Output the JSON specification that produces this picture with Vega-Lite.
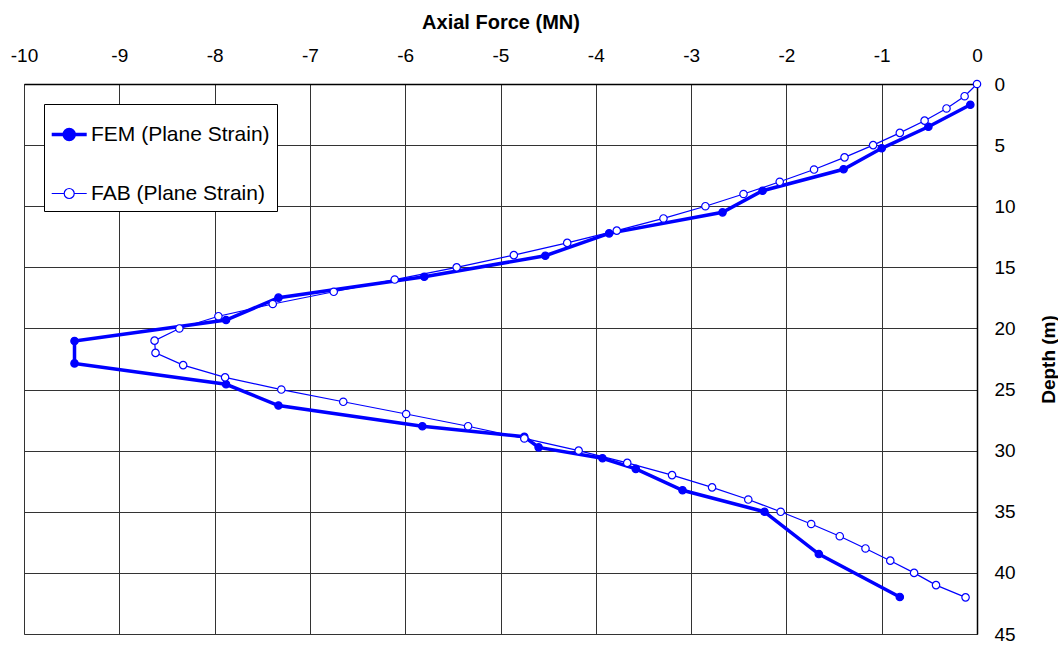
{
  "$schema": "https://vega.github.io/schema/vega-lite/v6.json",
  "width": 953,
  "height": 550,
  "autosize": "none",
  "padding": {"left": 24, "top": 84, "right": 81, "bottom": 13},
  "background": "white",
  "config": {
    "font": "Liberation Sans",
    "view": {"stroke": "#808080", "strokeWidth": 1},
    "axis": {"gridColor": "#333333", "gridWidth": 1, "gridOpacity": 1, "domainColor": "#000000", "domainWidth": 1.5, "labelColor": "#000000", "titleColor": "#000000", "labelFont": "Liberation Sans", "titleFont": "Liberation Sans"},
    "legend": {"orient": "top-left", "offset": 20, "padding": 7, "strokeColor": "#000000", "fillColor": "#ffffff", "cornerRadius": 0, "labelFontSize": 21, "labelFont": "Liberation Sans", "labelColor": "#000000", "labelOffset": -7, "rowPadding": 24, "labelLimit": 400, "symbolOpacity": 1}
  },
  "datasets": {
    "pts": [
      {"series": "FEM (Plane Strain)", "depth": 1.7, "force": -0.07},
      {"series": "FEM (Plane Strain)", "depth": 3.5, "force": -0.51},
      {"series": "FEM (Plane Strain)", "depth": 5.26, "force": -1.0},
      {"series": "FEM (Plane Strain)", "depth": 6.98, "force": -1.4},
      {"series": "FEM (Plane Strain)", "depth": 8.73, "force": -2.25},
      {"series": "FEM (Plane Strain)", "depth": 10.5, "force": -2.67},
      {"series": "FEM (Plane Strain)", "depth": 12.22, "force": -3.86},
      {"series": "FEM (Plane Strain)", "depth": 14.05, "force": -4.53},
      {"series": "FEM (Plane Strain)", "depth": 15.77, "force": -5.8},
      {"series": "FEM (Plane Strain)", "depth": 17.48, "force": -7.33},
      {"series": "FEM (Plane Strain)", "depth": 19.31, "force": -7.88},
      {"series": "FEM (Plane Strain)", "depth": 21.03, "force": -9.47},
      {"series": "FEM (Plane Strain)", "depth": 22.86, "force": -9.47},
      {"series": "FEM (Plane Strain)", "depth": 24.57, "force": -7.88},
      {"series": "FEM (Plane Strain)", "depth": 26.31, "force": -7.33},
      {"series": "FEM (Plane Strain)", "depth": 28.0, "force": -5.82},
      {"series": "FEM (Plane Strain)", "depth": 28.86, "force": -4.75},
      {"series": "FEM (Plane Strain)", "depth": 29.73, "force": -4.6},
      {"series": "FEM (Plane Strain)", "depth": 30.62, "force": -3.93},
      {"series": "FEM (Plane Strain)", "depth": 31.49, "force": -3.58},
      {"series": "FEM (Plane Strain)", "depth": 33.24, "force": -3.09},
      {"series": "FEM (Plane Strain)", "depth": 35.0, "force": -2.23},
      {"series": "FEM (Plane Strain)", "depth": 38.46, "force": -1.66},
      {"series": "FEM (Plane Strain)", "depth": 41.97, "force": -0.81},
      {"series": "FAB (Plane Strain)", "depth": 0, "force": 0.0},
      {"series": "FAB (Plane Strain)", "depth": 1, "force": -0.13},
      {"series": "FAB (Plane Strain)", "depth": 2, "force": -0.32},
      {"series": "FAB (Plane Strain)", "depth": 3, "force": -0.55},
      {"series": "FAB (Plane Strain)", "depth": 4, "force": -0.81},
      {"series": "FAB (Plane Strain)", "depth": 5, "force": -1.09},
      {"series": "FAB (Plane Strain)", "depth": 6, "force": -1.39},
      {"series": "FAB (Plane Strain)", "depth": 7, "force": -1.71},
      {"series": "FAB (Plane Strain)", "depth": 8, "force": -2.07},
      {"series": "FAB (Plane Strain)", "depth": 9, "force": -2.45},
      {"series": "FAB (Plane Strain)", "depth": 10, "force": -2.85},
      {"series": "FAB (Plane Strain)", "depth": 11, "force": -3.29},
      {"series": "FAB (Plane Strain)", "depth": 12, "force": -3.78},
      {"series": "FAB (Plane Strain)", "depth": 13, "force": -4.3},
      {"series": "FAB (Plane Strain)", "depth": 14, "force": -4.86},
      {"series": "FAB (Plane Strain)", "depth": 15, "force": -5.46},
      {"series": "FAB (Plane Strain)", "depth": 16, "force": -6.11},
      {"series": "FAB (Plane Strain)", "depth": 17, "force": -6.75},
      {"series": "FAB (Plane Strain)", "depth": 18, "force": -7.39},
      {"series": "FAB (Plane Strain)", "depth": 19, "force": -7.96},
      {"series": "FAB (Plane Strain)", "depth": 20, "force": -8.37},
      {"series": "FAB (Plane Strain)", "depth": 21, "force": -8.63},
      {"series": "FAB (Plane Strain)", "depth": 22, "force": -8.62},
      {"series": "FAB (Plane Strain)", "depth": 23, "force": -8.33},
      {"series": "FAB (Plane Strain)", "depth": 24, "force": -7.89},
      {"series": "FAB (Plane Strain)", "depth": 25, "force": -7.3},
      {"series": "FAB (Plane Strain)", "depth": 26, "force": -6.65},
      {"series": "FAB (Plane Strain)", "depth": 27, "force": -5.99},
      {"series": "FAB (Plane Strain)", "depth": 28, "force": -5.34},
      {"series": "FAB (Plane Strain)", "depth": 29, "force": -4.75},
      {"series": "FAB (Plane Strain)", "depth": 30, "force": -4.18},
      {"series": "FAB (Plane Strain)", "depth": 31, "force": -3.67},
      {"series": "FAB (Plane Strain)", "depth": 32, "force": -3.2},
      {"series": "FAB (Plane Strain)", "depth": 33, "force": -2.78},
      {"series": "FAB (Plane Strain)", "depth": 34, "force": -2.4},
      {"series": "FAB (Plane Strain)", "depth": 35, "force": -2.06},
      {"series": "FAB (Plane Strain)", "depth": 36, "force": -1.74},
      {"series": "FAB (Plane Strain)", "depth": 37, "force": -1.44},
      {"series": "FAB (Plane Strain)", "depth": 38, "force": -1.17},
      {"series": "FAB (Plane Strain)", "depth": 39, "force": -0.91},
      {"series": "FAB (Plane Strain)", "depth": 40, "force": -0.66},
      {"series": "FAB (Plane Strain)", "depth": 41, "force": -0.43},
      {"series": "FAB (Plane Strain)", "depth": 42, "force": -0.12}
    ]
  },
  "data": {"name": "pts"},
  "encoding": {
    "x": {
      "field": "force", "type": "quantitative",
      "scale": {"domain": [-10, 0], "nice": false, "zero": false},
      "axis": {"orient": "top", "values": [-10, -9, -8, -7, -6, -5, -4, -3, -2, -1, 0], "labelExpr": "datum.value + ''", "title": "Axial Force (MN)", "titleFontSize": 20, "titleFontWeight": "bold", "titlePadding": 14, "labelFontSize": 19, "labelFontWeight": "normal", "ticks": false, "labelPadding": 19, "labelFlush": false, "grid": true}
    },
    "y": {
      "field": "depth", "type": "quantitative",
      "scale": {"domain": [0, 45], "nice": false, "zero": false, "reverse": true},
      "axis": {"orient": "right", "values": [0, 5, 10, 15, 20, 25, 30, 35, 40, 45], "title": "Depth (m)", "titleFontSize": 19, "titleFontWeight": "bold", "titleAngle": 270, "titlePadding": 43, "labelFontSize": 19, "ticks": false, "labelPadding": 17, "labelFlush": false, "grid": true}
    }
  },
  "layer": [
    {
      "mark": {"type": "line", "clip": false},
      "encoding": {
        "detail": {"field": "series"},
        "order": {"field": "depth", "type": "quantitative"},
        "stroke": {"field": "series", "type": "nominal", "scale": {"domain": ["FEM (Plane Strain)", "FAB (Plane Strain)"], "range": ["#0000ff", "#0000ff"]},
          "legend": {"title": null, "symbolType": "M-1.06,0L-0.479,0M-0.013,0L0.568,0M-0.479,0A0.233,0.233 0 1,0 -0.013,0A0.233,0.233 0 1,0 -0.479,0", "symbolSize": 1849}},
        "strokeWidth": {"field": "series", "type": "nominal", "scale": {"domain": ["FEM (Plane Strain)", "FAB (Plane Strain)"], "range": [3.5, 1.2]},
          "legend": {"title": null, "symbolType": "M-1.06,0L-0.479,0M-0.013,0L0.568,0M-0.479,0A0.233,0.233 0 1,0 -0.013,0A0.233,0.233 0 1,0 -0.479,0", "symbolSize": 1849}}
      }
    },
    {
      "mark": {"type": "point", "shape": "circle", "filled": false, "opacity": 1, "size": 55, "strokeWidth": 1.2},
      "encoding": {
        "fill": {
          "field": "series", "type": "nominal",
          "scale": {"domain": ["FEM (Plane Strain)", "FAB (Plane Strain)"], "range": ["#0000ff", "#ffffff"]},
          "legend": {"title": null, "symbolType": "M-1.06,0L-0.479,0M-0.013,0L0.568,0M-0.479,0A0.233,0.233 0 1,0 -0.013,0A0.233,0.233 0 1,0 -0.479,0", "symbolSize": 1849}
        },
        "stroke": {"field": "series", "type": "nominal", "scale": {"domain": ["FEM (Plane Strain)", "FAB (Plane Strain)"], "range": ["#0000ff", "#0000ff"]},
          "legend": {"title": null, "symbolType": "M-1.06,0L-0.479,0M-0.013,0L0.568,0M-0.479,0A0.233,0.233 0 1,0 -0.013,0A0.233,0.233 0 1,0 -0.479,0", "symbolSize": 1849}}
      }
    }
  ]
}
